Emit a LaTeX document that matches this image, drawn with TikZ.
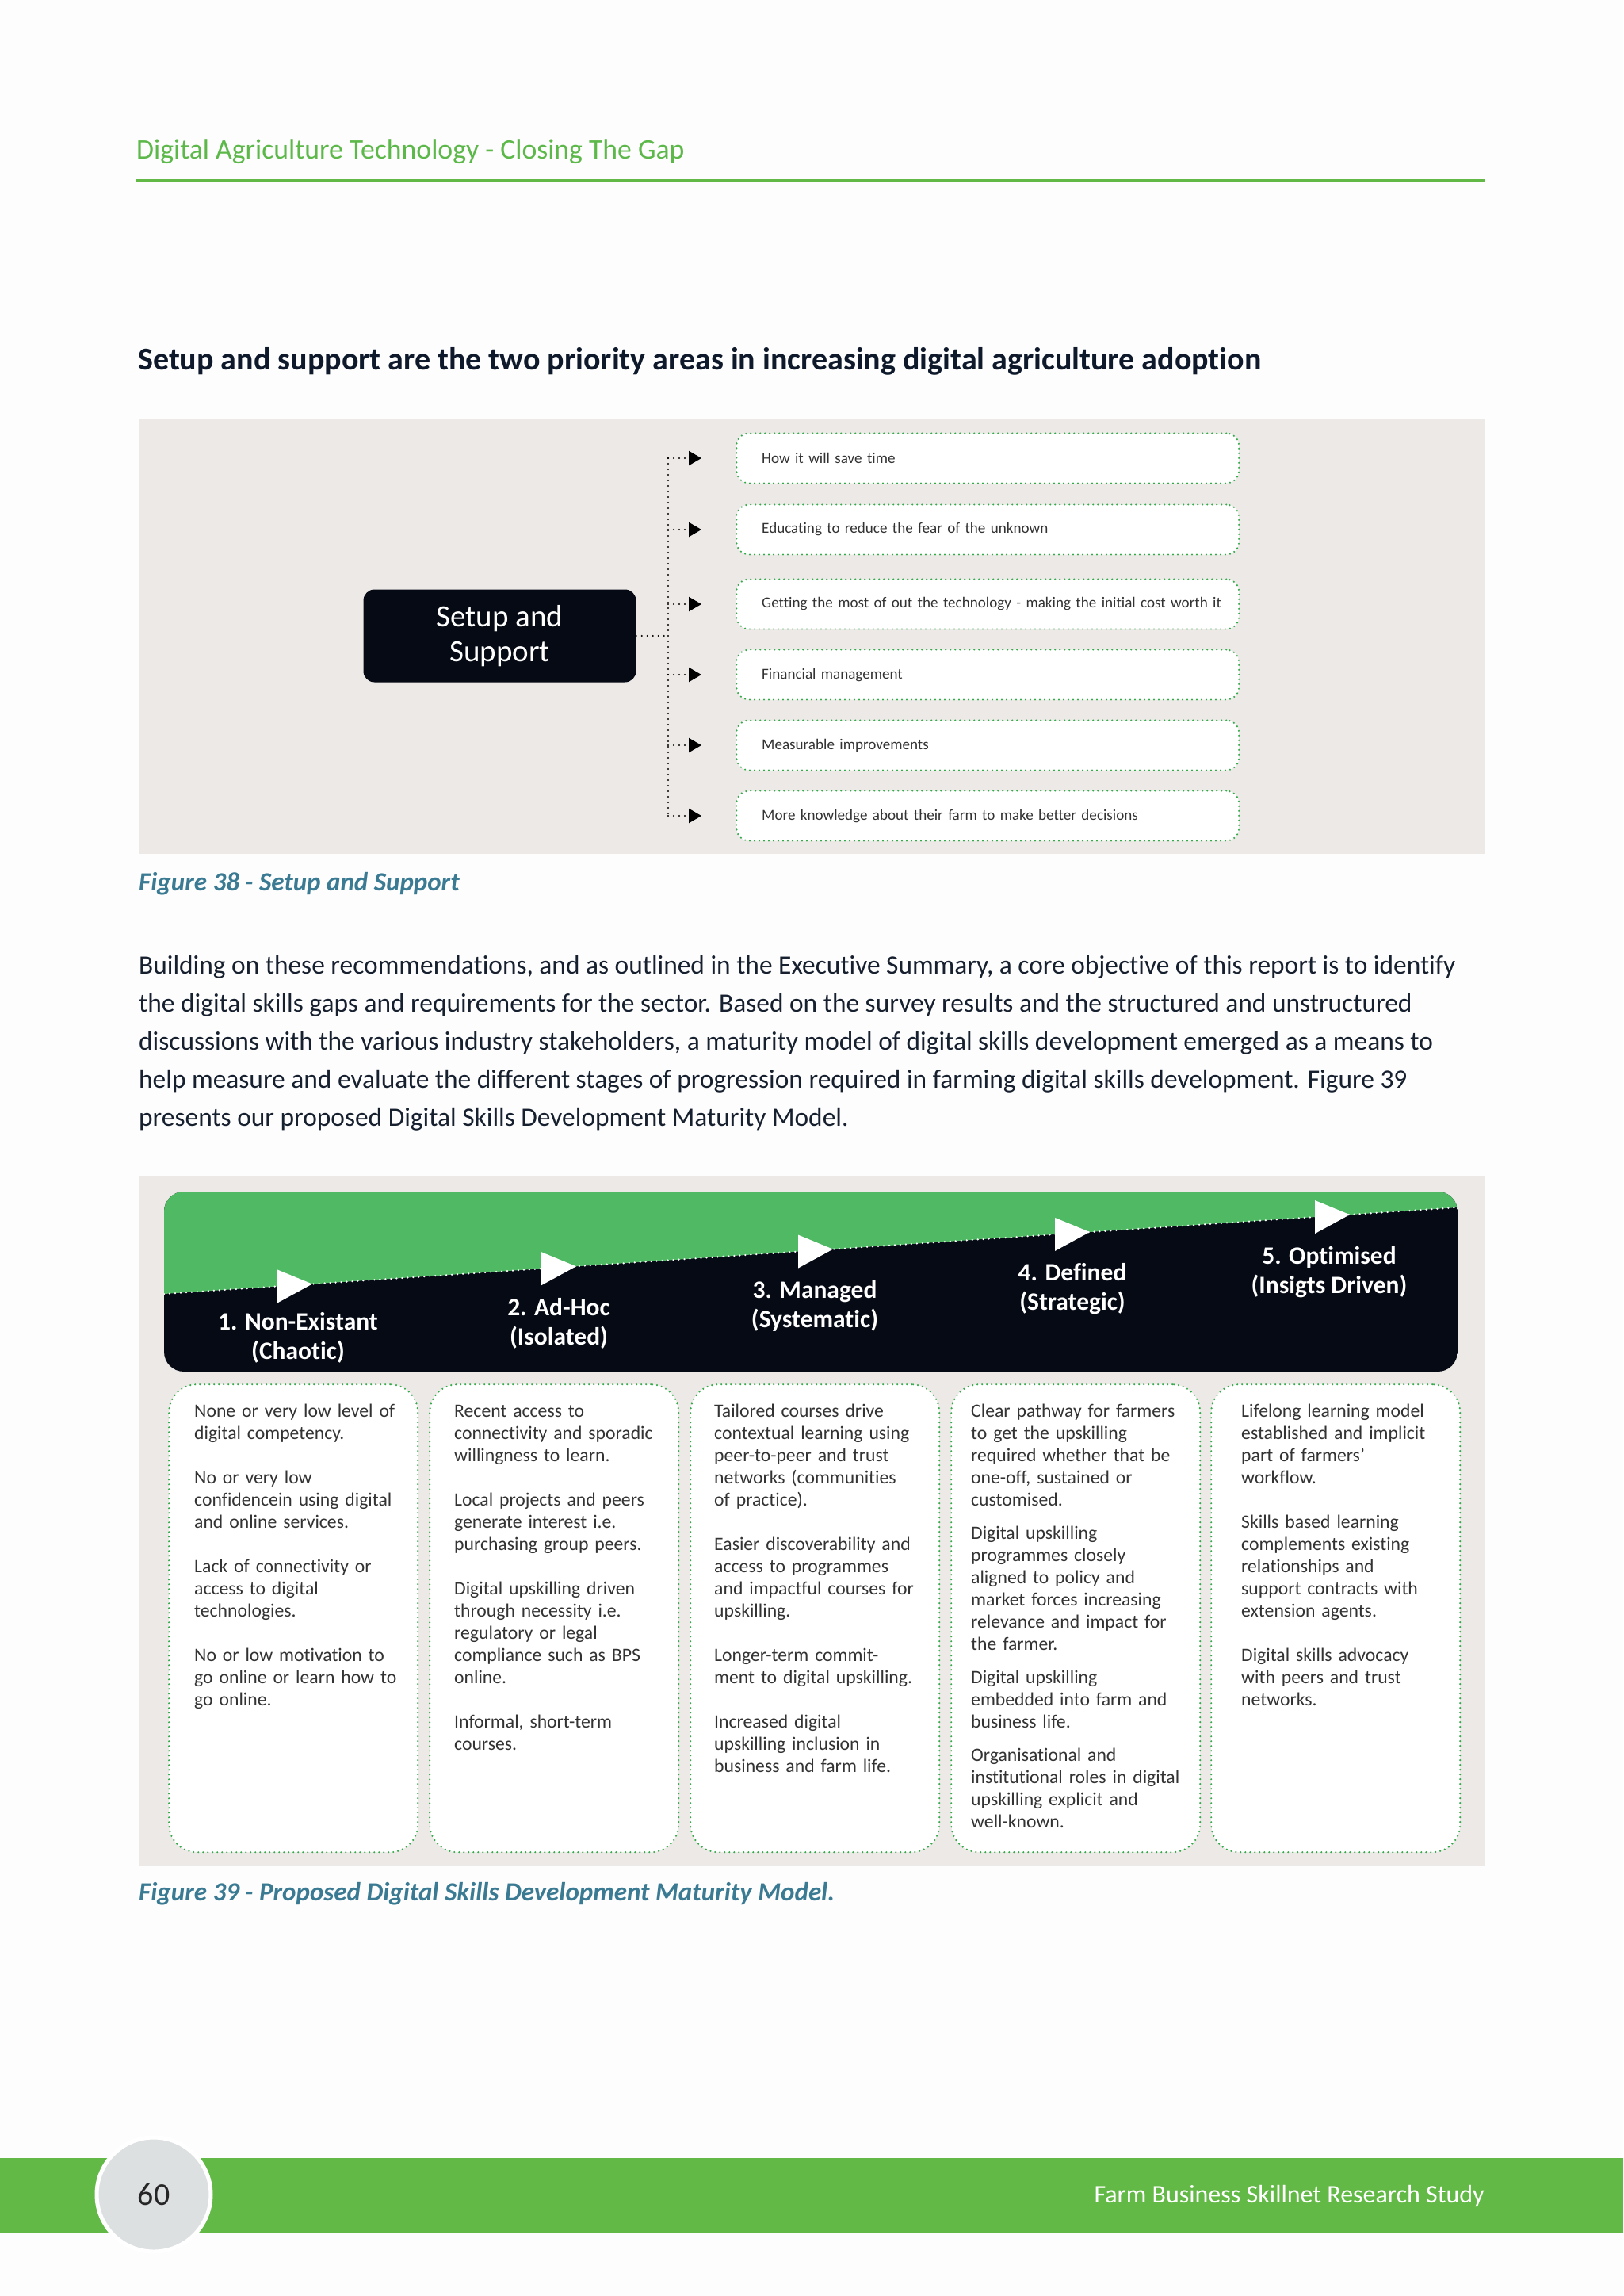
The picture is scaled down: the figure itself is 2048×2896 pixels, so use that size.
\documentclass[tikz,border=0pt]{standalone}
\usepackage{fontspec}
\setmainfont{Carlito}[Ligatures=NoCommon]
\usetikzlibrary{arrows.meta,calc}
\definecolor{pagebg}{HTML}{FDFDFD}
\definecolor{panelgray}{HTML}{ECE9E7}
\definecolor{hdrgreen}{HTML}{5DB84A}
\definecolor{linegreen}{HTML}{62B946}
\definecolor{titlenavy}{HTML}{0E1A2B}
\definecolor{bodynavy}{HTML}{17202F}
\definecolor{captealblue}{HTML}{3A7A93}
\definecolor{boxnavy}{HTML}{050A14}
\definecolor{bannergreen}{HTML}{50B964}
\definecolor{dotgreen}{HTML}{34AA4A}
\definecolor{textgray}{HTML}{333333}
\definecolor{footgreen}{HTML}{62B946}
\definecolor{circlegray}{HTML}{DDE0E1}
\newcommand\fsz[2]{\fontsize{#1pt}{#2pt}\selectfont}
\tikzset{
  greendots/.style={draw=dotgreen, line width=2.4pt, dash pattern=on 0pt off 6pt, line cap=round},
  itembox/.style={greendots, fill=white, rounded corners=16pt, minimum height=63pt,
    text width=570pt, inner xsep=32pt, inner ysep=0pt, align=left, anchor=west,
    font=\fsz{19.1}{23}, text=textgray},
  conn/.style={draw=black, line width=2.2pt, dash pattern=on 0pt off 7pt, line cap=round},
  colbox/.style={greendots, fill=white, rounded corners=35pt, minimum width=314pt,
    minimum height=590pt, anchor=north west, inner sep=0pt},
  coltext/.style={anchor=north west, inner sep=0pt, text width=300pt, align=left,
    font=\fsz{23.7}{28}, text=textgray},
  stagelabel/.style={text=white, align=center, font=\bfseries\fsz{31.5}{37}, inner sep=0pt},
  bodyline/.style={anchor=base west, inner sep=0pt, text=bodynavy, font=\fsz{33.4}{48}},
  caption/.style={anchor=base west, inner sep=0pt, text=captealblue, font=\bfseries\itshape\fsz{33}{38}},
}
\begin{document}
\begin{tikzpicture}[x=1pt,y=-1pt]
\useasboundingbox (0,0) rectangle (2048,2896);
\fill[pagebg] (0,0) rectangle (2048,2896);

% header
\node[anchor=base west, inner sep=0pt, text=hdrgreen, font=\fsz{35.7}{40}] (hdr) at (172,200)
  {Digital Agriculture Technology - Closing The Gap};
\draw[linegreen, line width=4pt] (172,228) -- (1874,228);

% title
\node[anchor=base west, inner sep=0pt, text=titlenavy, font=\bfseries\fsz{40}{44}] (title) at (174,466)
  {Setup and support are the two priority areas in increasing digital agriculture adoption};

% figure 38 panel
\fill[panelgray] (175,528) rectangle (1873,1077);
\node[fill=boxnavy, rounded corners=14pt, minimum width=344pt, minimum height=117pt,
      text=white, align=center, font=\fsz{39}{44}, inner sep=0pt] (setup) at (630.5,802)
  {Setup and\\Support};
\node[itembox] (it1) at (928,578) {\mbox{How it will save time}};
\node[itembox] (it2) at (928,668) {\mbox{Educating to reduce the fear of the unknown}};
\node[itembox] (it3) at (928,762) {\mbox{Getting the most of out the technology - making the initial cost worth it}};
\node[itembox] (it4) at (928,851) {\mbox{Financial management}};
\node[itembox] (it5) at (928,940) {\mbox{Measurable improvements}};
\node[itembox] (it6) at (928,1029) {\mbox{More knowledge about their farm to make better decisions}};
\coordinate (spine) at (843,802);
\draw[conn] (setup.east) -- (spine);
\draw[conn] (spine |- it1.west) -- (spine |- it6.west);
\foreach \i in {1,...,6}{
  \draw[conn, -{Triangle[length=16pt,width=18pt]}, shorten >=43pt] (spine |- it\i.west) -- (it\i.west);
}
\node[caption] (cap38) at (175,1123) {Figure 38 - Setup and Support};

% body text
\node[bodyline] (b1) at (175,1228) {Building on these recommendations, and as outlined in the Executive Summary, a core objective of this report is to identify};
\node[bodyline] (b2) at (175,1276) {the digital skills gaps and requirements for the sector. Based on the survey results and the structured and unstructured};
\node[bodyline] (b3) at (175,1324) {discussions with the various industry stakeholders, a maturity model of digital skills development emerged as a means to};
\node[bodyline] (b4) at (175,1372) {help measure and evaluate the different stages of progression required in farming digital skills development. Figure 39};
\node[bodyline] (b5) at (175,1420) {presents our proposed Digital Skills Development Maturity Model.};

% figure 39 panel
\fill[panelgray] (175,1483) rectangle (1873,2353);
\begin{scope}
  \clip[rounded corners=25pt] (207,1503) rectangle (1839,1730);
  \fill[boxnavy] (207,1503) rectangle (1839,1730);
  \fill[bannergreen] (207,1500) -- (1839,1500) -- (1839,1523) -- (207,1632) -- cycle;
  \draw[white, line width=2.5pt, dash pattern=on 0pt off 7pt, line cap=round] (207,1632) -- (1839,1523);
  \foreach \xb in {350,683,1007,1331,1659}{
    \pgfmathsetmacro\ya{1632-0.06679*(\xb-207)}
    \pgfmathsetmacro\yb{1632-0.06679*(\xb+44-207)}
    \fill[white] (\xb,\ya-21) -- (\xb,\ya+21) -- (\xb+44,\yb) -- cycle;
  }
\end{scope}
\node[stagelabel] (s1) at (376,1687) {1. Non-Existant\\(Chaotic)};
\node[stagelabel] (s2) at (705,1669) {2. Ad-Hoc\\(Isolated)};
\node[stagelabel] (s3) at (1028,1647) {3. Managed\\(Systematic)};
\node[stagelabel] (s4) at (1353,1626) {4. Defined\\(Strategic)};
\node[stagelabel] (s5) at (1677,1605) {5. Optimised\\(Insigts Driven)};

\node[colbox] (c1) at (212,1745) {};
\node[colbox] (c2) at (541,1745) {};
\node[colbox] (c3) at (870,1745) {};
\node[colbox] (c4) at (1199,1745) {};
\node[colbox] (c5) at (1527,1745) {};

\node[coltext] (c1t) at (245,1767.4) {\strut None or very low level of\\digital competency.\\[28pt]
No or very low\\confidencein using digital\\and online services.\\[28pt]
Lack of connectivity or\\access to digital\\technologies.\\[28pt]
No or low motivation to\\go online or learn how to\\go online.};
\node[coltext] (c2t) at (573,1767.4) {\strut Recent access to\\connectivity and sporadic\\willingness to learn.\\[28pt]
Local projects and peers\\generate interest i.e.\\purchasing group peers.\\[28pt]
Digital upskilling driven\\through necessity i.e.\\regulatory or legal\\compliance such as BPS\\online.\\[28pt]
Informal, short-term\\courses.};
\node[coltext] (c3t) at (901,1767.4) {\strut Tailored courses drive\\contextual learning using\\peer-to-peer and trust\\networks (communities\\of practice).\\[28pt]
Easier discoverability and\\access to programmes\\and impactful courses for\\upskilling.\\[28pt]
Longer-term commit-\\ment to digital upskilling.\\[28pt]
Increased digital\\upskilling inclusion in\\business and farm life.};
\node[coltext] (c4t) at (1225,1767.4) {\strut Clear pathway for farmers\\to get the upskilling\\required whether that be\\one-off, sustained or\\customised.\\[14pt]
Digital upskilling\\programmes closely\\aligned to policy and\\market forces increasing\\relevance and impact for\\the farmer.\\[14pt]
Digital upskilling\\embedded into farm and\\business life.\\[14pt]
Organisational and\\institutional roles in digital\\upskilling explicit and\\well-known.};
\node[coltext] (c5t) at (1566,1767.4) {\strut Lifelong learning model\\established and implicit\\part of farmers’\\workflow.\\[28pt]
Skills based learning\\complements existing\\relationships and\\support contracts with\\extension agents.\\[28pt]
Digital skills advocacy\\with peers and trust\\networks.};

\node[caption] (cap39) at (175,2397) {Figure 39 - Proposed Digital Skills Development Maturity Model.};

% footer
\fill[footgreen] (0,2722) rectangle (2048,2816);
\node[circle, fill=circlegray, draw=white, line width=5pt, minimum size=144pt, inner sep=0pt,
      text=black!85, font=\fsz{40}{44}] (pagenum) at (194,2768) {60};
\node[anchor=base east, inner sep=0pt, text=white, font=\fsz{32}{36}] (foot) at (1873,2778)
  {Farm Business Skillnet Research Study};
\end{tikzpicture}
\end{document}
